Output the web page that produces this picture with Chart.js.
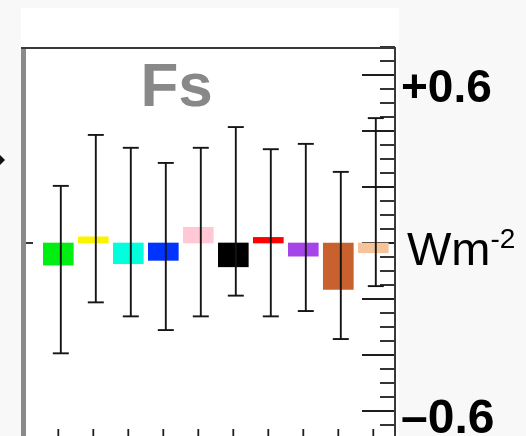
<!DOCTYPE html>
<html>
<head>
<meta charset="utf-8">
<script src="https://cdn.jsdelivr.net/npm/chart.js@4"></script>
<style>
html,body{margin:0;padding:0;width:526px;height:436px;overflow:hidden;background:#f8f8f8;font-family:"Liberation Sans",Arial,sans-serif}
#panel{position:absolute;left:21px;top:8px;width:378px;height:440px;background:#fff}
#chart{position:absolute;left:0;top:0}
.lbl{position:absolute;line-height:1;white-space:nowrap;color:#000}
</style>
</head>
<body>
<div id="panel"></div>
<canvas id="chart" width="526" height="445"></canvas>
<div class="lbl" style="left:140.5px;top:54.2px;font-size:62px;font-weight:bold;color:#888">Fs</div>
<div class="lbl" style="left:401px;top:63px;font-size:46px;font-weight:bold">+0.6</div>
<div class="lbl" style="left:407px;top:225.2px;font-size:47px">Wm</div>
<div class="lbl" style="left:490.5px;top:225.3px;font-size:28px">-2</div>
<div class="lbl" style="left:401px;top:393.4px;font-size:48px;font-weight:bold">–0.6</div>
<script>
  // one bar per forcing term, no category text in the original
  var CATEGORIES = ['1', '2', '3', '4', '5', '6', '7', '8', '9', '10'];
  var VALUES = [-0.079, 0.022, -0.074, -0.062, 0.056, -0.085, 0.02, -0.047, -0.166, -0.035];
  var ERR_HIGH = [0.204, 0.386, 0.340, 0.286, 0.340, 0.414, 0.335, 0.354, 0.254, 0.446];
  var ERR_LOW = [-0.394, -0.212, -0.262, -0.311, -0.262, -0.188, -0.262, -0.243, -0.343, -0.154];
  var COLORS = ['#00ee11', '#fbf400', '#00ffdd', '#0033ff', '#ffc8d4', '#000000', '#ff0000', '#a545e8', '#c8612e', '#f5c49a'];
  var Y_MIN = -0.7, Y_MAX = 0.7, Y_STEP = 0.05, MAJOR_STEP = 0.2;

  function isMajor(v) {
    var r = v / MAJOR_STEP;
    return Math.abs(r - Math.round(r)) < 1e-6;
  }

  function line(ctx, x1, y1, x2, y2) {
    ctx.beginPath();
    ctx.moveTo(x1, y1);
    ctx.lineTo(x2, y2);
    ctx.stroke();
  }

  function tickValues(scale) {
    var values = scale.ticks.map(function (t) { return t.value; });
    var n = Math.round((Y_MAX - Y_MIN) / Y_STEP);
    if (values.length === n + 1) return values;
    values = [];
    for (var i = 0; i <= n; i++) values.push(Y_MIN + i * Y_STEP);
    return values;
  }

  var axesPlugin = {
    id: 'fsAxes',
    beforeDatasetsDraw: function (chart) {
      var ctx = chart.ctx, area = chart.chartArea, y = chart.scales.y, x = chart.scales.x;
      ctx.save();
      ctx.fillStyle = '#8a8a8a';
      ctx.fillRect(area.left - 5, area.top, 5, chart.height - area.top);
      ctx.strokeStyle = '#1e1e1e';
      ctx.lineWidth = 1.8;
      tickValues(y).forEach(function (v) {
        var py = y.getPixelForValue(v);
        line(ctx, area.right - (isMajor(v) ? 33 : 15), py, area.right, py);
      });
      var zero = y.getPixelForValue(0);
      line(ctx, area.left, zero, area.left + 7, zero);
      CATEGORIES.forEach(function (_, i) {
        var px = x.getPixelForValue(i);
        line(ctx, px, area.bottom - 10, px, area.bottom);
      });
      ctx.restore();
    },
    afterDatasetsDraw: function (chart) {
      var ctx = chart.ctx, area = chart.chartArea, y = chart.scales.y;
      var bars = chart.getDatasetMeta(0).data;
      ctx.save();
      ctx.strokeStyle = '#151515';
      ctx.lineWidth = 1.9;
      bars.forEach(function (bar, i) {
        var px = bar.x + 2.5;
        var top = y.getPixelForValue(ERR_HIGH[i]), bottom = y.getPixelForValue(ERR_LOW[i]);
        line(ctx, px, top, px, bottom);
        line(ctx, px - 8, top, px + 8, top);
        line(ctx, px - 8, bottom, px + 8, bottom);
      });
      // frame: top edge and right axis
      ctx.strokeStyle = '#3a3a3a';
      ctx.lineWidth = 2;
      line(ctx, area.left - 5, area.top + 1, area.right + 1, area.top + 1);
      line(ctx, area.right, area.top, area.right, chart.height);
      // stray arrow head at the left edge of the cut-out
      ctx.fillStyle = '#111';
      ctx.beginPath();
      ctx.moveTo(0, 155);
      ctx.lineTo(5, 160);
      ctx.lineTo(0, 165);
      ctx.closePath();
      ctx.fill();
      ctx.restore();
    }
  };

  new Chart(document.getElementById('chart'), {
    type: 'bar',
    data: {
      labels: CATEGORIES,
      datasets: [{
        data: VALUES.map(function (v, i) { return {x: i, y: v}; }),
        backgroundColor: COLORS,
        borderWidth: 0,
        barThickness: 30
      }]
    },
    options: {
      responsive: false,
      animation: false,
      events: [],
      layout: {padding: {left: 26, right: 131, top: 47, bottom: 6}},
      plugins: {legend: {display: false}, tooltip: {enabled: false}},
      scales: {
        x: {type: 'linear', display: false, offset: false, min: -0.923, max: 9.62, grid: {offset: false}},
        y: {display: false, min: Y_MIN, max: Y_MAX, ticks: {stepSize: Y_STEP, maxTicksLimit: 100}}
      }
    },
    plugins: [axesPlugin]
  });
</script>
</body>
</html>
